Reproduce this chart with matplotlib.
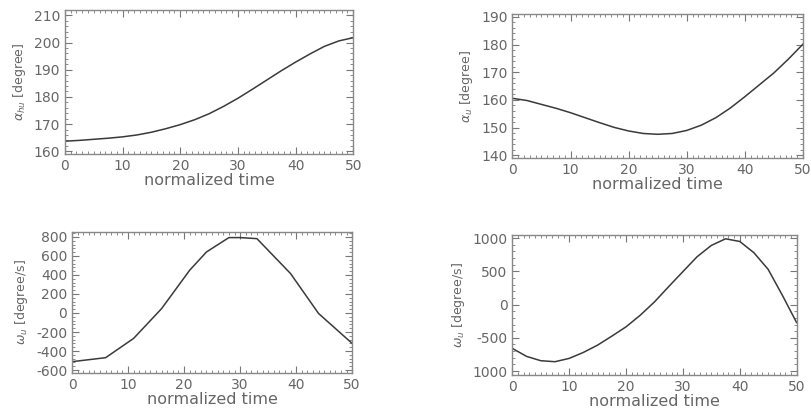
import matplotlib
matplotlib.use("Agg")
import matplotlib.pyplot as plt
from matplotlib.ticker import AutoMinorLocator, FixedLocator, FixedFormatter

plt.rcParams['axes.unicode_minus'] = False

# Oben links: alpha_hu
t_hu = [0, 2.5, 5, 7.5, 10, 12.5, 15, 17.5, 20, 22.5, 25, 27.5, 30, 32.5, 35, 37.5, 40, 42.5, 45, 47.5, 50]
alpha_hu = [163.7, 164.0, 164.4, 164.8, 165.3, 166.0, 167.0, 168.3, 169.8, 171.6, 173.8, 176.5,
            179.5, 182.8, 186.2, 189.6, 192.8, 195.8, 198.6, 200.6, 201.8]

# Oben rechts: alpha_u
t_u = [0, 2.5, 5, 7.5, 10, 12.5, 15, 17.5, 20, 22.5, 25, 27.5, 30, 32.5, 35, 37.5, 40, 42.5, 45, 47.5, 50]
alpha_u = [160.6, 159.8, 158.4, 157.0, 155.4, 153.6, 151.8, 150.1, 148.8, 147.9, 147.6, 147.9,
           149.0, 150.9, 153.6, 157.1, 161.2, 165.5, 169.8, 174.8, 180.2]

# Unten links: omega_hu (stueckweise linear)
t_whu = [0, 6, 11, 16, 21, 24, 28, 30, 33, 39, 44, 50]
omega_hu = [-512, -470, -267, 47, 450, 642, 793, 793, 782, 415, -5, -320]

# Unten rechts: omega_u
t_wu = [0, 2.5, 5, 7.5, 10, 12.5, 15, 17.5, 20, 22.5, 25, 27.5, 30, 32.5, 35, 37.5, 40, 42.5, 45, 47.5, 50]
omega_u = [-660, -780, -845, -860, -810, -720, -610, -475, -335, -160, 40, 270,
           496, 720, 890, 990, 950, 780, 530, 140, -270]

xticks = [0, 10, 20, 30, 40, 50]

fig = plt.figure(figsize=(8.12, 4.15), dpi=100)
grey = "#666666"
line_col = "#3a3a3a"

panels = [
    ([0.080, 0.629, 0.355, 0.347], t_hu, alpha_hu, (159, 212), [160, 170, 180, 190, 200, 210], None,
     r"$\alpha_{hu}$ [degree]"),
    ([0.631, 0.619, 0.358, 0.347], t_u, alpha_u, (139, 191), [140, 150, 160, 170, 180, 190], None,
     r"$\alpha_{u}$ [degree]"),
    ([0.0887, 0.101, 0.345, 0.340], t_whu, omega_hu, (-632, 852), [-600, -400, -200, 0, 200, 400, 600, 800], None,
     r"$\omega_{u}$ [degree/s]"),
    ([0.631, 0.0964, 0.350, 0.337], t_wu, omega_u, (-1060, 1045), [-1000, -500, 0, 500, 1000],
     ["1000", "-500", "0", "500", "1000"], r"$\omega_{u}$ [degree/s]"),
]

for rect, x, y, ylim, yt, ylab, label in panels:
    ax = fig.add_axes(rect)
    ax.plot(x, y, color=line_col, lw=1.1)
    ax.set_xlim(0, 50)
    ax.set_ylim(*ylim)
    ax.set_xticks(xticks)
    ax.yaxis.set_major_locator(FixedLocator(yt))
    if ylab is not None:
        ax.yaxis.set_major_formatter(FixedFormatter(ylab))
    else:
        ax.set_yticklabels([str(v) for v in yt])
    ax.xaxis.set_minor_locator(AutoMinorLocator(10))
    ax.yaxis.set_minor_locator(AutoMinorLocator(5))
    ax.tick_params(which="both", direction="in", top=True, right=True, colors="#777777",
                   labelsize=10, labelcolor=grey)
    ax.tick_params(which="major", length=5)
    ax.tick_params(which="minor", length=2.5)
    for s in ax.spines.values():
        s.set_color("#888888")
        s.set_linewidth(1.0)
    ax.set_xlabel("normalized time", fontsize=11.5, color=grey, labelpad=0)
    ax.set_ylabel(label, fontsize=9, color=grey, labelpad=4)

fig.savefig("out.png", dpi=100)
